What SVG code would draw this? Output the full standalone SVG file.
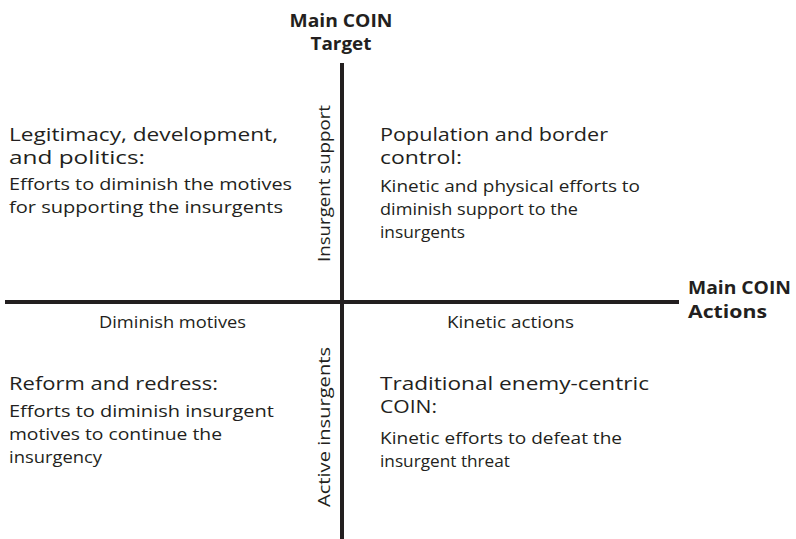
<svg xmlns="http://www.w3.org/2000/svg" width="796" height="539" viewBox="0 0 796 539">
<style>
text{font-family:"Open Sans","Noto Sans","Liberation Sans",sans-serif;fill:#231f20}
.h{font-size:18.5px}
.b{font-size:16.5px}
.t{font-size:18.5px;font-weight:bold}
.ax{stroke:#231f20;stroke-width:4;fill:none}
</style>
<rect width="796" height="539" fill="#fff"/>
<g id="axes">
<line class="ax" x1="342" y1="63" x2="342" y2="539"/>
<line class="ax" x1="5" y1="302" x2="679" y2="302"/>
</g>
<g id="title-target">
<text class="t" x="289.5" y="27" textLength="103" lengthAdjust="spacingAndGlyphs">Main COIN</text>
<text class="t" x="310.5" y="50" textLength="61" lengthAdjust="spacingAndGlyphs">Target</text>
</g>
<g id="title-actions">
<text class="t" x="688" y="294" textLength="103" lengthAdjust="spacingAndGlyphs">Main COIN</text>
<text class="t" x="688" y="318" textLength="79" lengthAdjust="spacingAndGlyphs">Actions</text>
</g>
<g id="q1">
<text class="h" x="9" y="141" textLength="269" lengthAdjust="spacingAndGlyphs">Legitimacy, development,</text>
<text class="h" x="9" y="164" textLength="136" lengthAdjust="spacingAndGlyphs">and politics:</text>
<text class="b" x="9" y="190" textLength="283" lengthAdjust="spacingAndGlyphs">Efforts to diminish the motives</text>
<text class="b" x="9" y="213" textLength="274" lengthAdjust="spacingAndGlyphs">for supporting the insurgents</text>
</g>
<g id="q2">
<text class="h" x="380" y="141" textLength="228" lengthAdjust="spacingAndGlyphs">Population and border</text>
<text class="h" x="380" y="164" textLength="82" lengthAdjust="spacingAndGlyphs">control:</text>
<text class="b" x="380" y="192" textLength="260" lengthAdjust="spacingAndGlyphs">Kinetic and physical efforts to</text>
<text class="b" x="380" y="215" textLength="198" lengthAdjust="spacingAndGlyphs">diminish support to the</text>
<text class="b" x="380" y="238" textLength="85" lengthAdjust="spacingAndGlyphs">insurgents</text>
</g>
<g id="q3">
<text class="h" x="9" y="390" textLength="209" lengthAdjust="spacingAndGlyphs">Reform and redress:</text>
<text class="b" x="9" y="417" textLength="265" lengthAdjust="spacingAndGlyphs">Efforts to diminish insurgent</text>
<text class="b" x="9" y="440" textLength="213" lengthAdjust="spacingAndGlyphs">motives to continue the</text>
<text class="b" x="9" y="463" textLength="93" lengthAdjust="spacingAndGlyphs">insurgency</text>
</g>
<g id="q4">
<text class="h" x="380" y="390" textLength="269" lengthAdjust="spacingAndGlyphs">Traditional enemy-centric</text>
<text class="h" x="380" y="413" textLength="57" lengthAdjust="spacingAndGlyphs">COIN:</text>
<text class="b" x="380" y="444" textLength="242" lengthAdjust="spacingAndGlyphs">Kinetic efforts to defeat the</text>
<text class="b" x="380" y="467" textLength="130" lengthAdjust="spacingAndGlyphs">insurgent threat</text>
</g>
<g id="axis-labels">
<text class="b" x="99" y="328" textLength="147" lengthAdjust="spacingAndGlyphs">Diminish motives</text>
<text class="b" x="447" y="328" textLength="127" lengthAdjust="spacingAndGlyphs">Kinetic actions</text>
<text class="b" transform="translate(330,262) rotate(-90)" textLength="157" lengthAdjust="spacingAndGlyphs">Insurgent support</text>
<text class="b" transform="translate(330,507) rotate(-90)" textLength="160" lengthAdjust="spacingAndGlyphs">Active insurgents</text>
</g>
</svg>
